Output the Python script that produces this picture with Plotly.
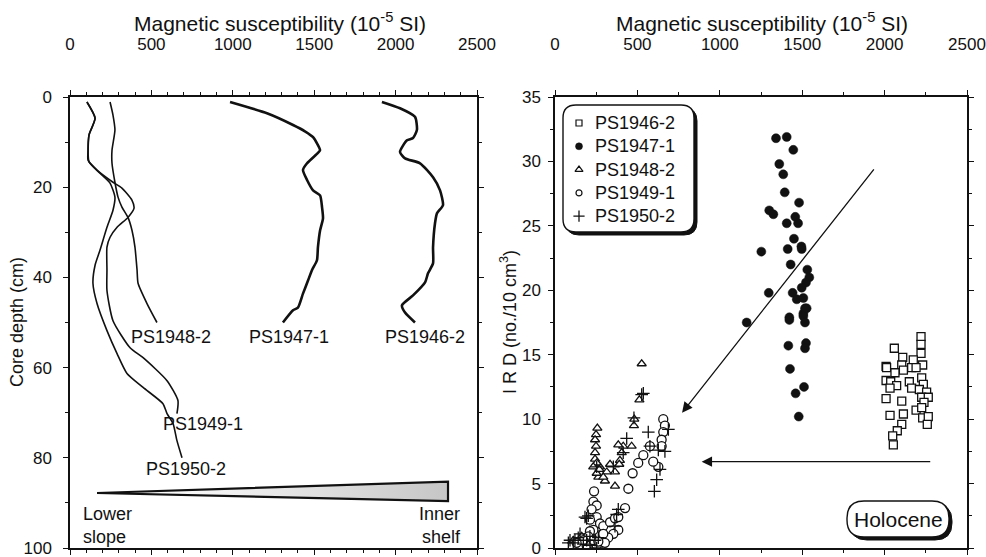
import plotly.graph_objects as go

W, H = 986, 557
FONT = "Liberation Sans, Arial, Helvetica, sans-serif"
INK = "#111111"

# ---- Left panel: down-core magnetic susceptibility (10^-5 SI) ----
ps1946_ms = [1916, 2027, 2119, 2131, 2107, 2070, 2027, 2058, 2150, 2230, 2273, 2291,
             2254, 2242, 2230, 2230, 2199, 2181, 2107, 2039, 2058, 2119]
ps1946_depth = [1.1, 2.5, 4.4, 7.3, 9.1, 9.6, 12.2, 13.6, 14.7, 17.8, 20.7, 24.0,
                25.8, 28.0, 33.3, 36.9, 39.1, 41.1, 44.0, 46.2, 47.8, 50.0]

ps1947_ms = [983, 1210, 1370, 1443, 1493, 1536, 1523, 1456, 1431, 1456, 1493, 1536,
             1548, 1554, 1536, 1523, 1517, 1486, 1462, 1431, 1400, 1370, 1308]
ps1947_depth = [1.1, 3.6, 6.2, 7.6, 8.9, 11.8, 12.4, 14.7, 16.2, 18.4, 20.7, 21.8,
                24.4, 26.9, 29.6, 33.3, 36.2, 38.4, 40.7, 43.6, 46.7, 47.3, 50.0]

ps1948_ms = [246, 264, 276, 258, 258, 276, 295, 319, 356, 381, 399, 412, 418, 473, 534]
ps1948_depth = [1.1, 4.0, 7.3, 11.8, 14.7, 18.9, 22.2, 24.4, 26.7, 29.6, 33.3, 38.4,
                41.3, 45.8, 50.0]

ps1949_ms = [104, 154, 117, 111, 111, 166, 264, 319, 381, 393, 356, 289, 246, 227,
             227, 227, 264, 369, 449, 596, 663, 657]
ps1949_depth = [1.1, 4.7, 8.4, 11.8, 14.0, 16.2, 18.9, 20.2, 22.9, 24.7, 26.7, 28.9,
                31.1, 33.3, 38.4, 42.9, 49.6, 55.6, 57.8, 62.9, 67.3, 70.2]

ps1950_ms = [104, 154, 117, 111, 117, 184, 246, 276, 264, 227, 184, 154, 141, 166,
             227, 289, 350, 449, 571, 596, 633, 657, 688]
ps1950_depth = [1.1, 4.7, 8.4, 11.8, 14.4, 16.9, 19.1, 22.2, 25.1, 28.9, 34.0, 37.3,
                41.3, 45.8, 51.8, 56.9, 61.3, 64.4, 68.0, 70.2, 72.4, 76.2, 80.0]

# labels at the foot of each profile: (text, ms, depth)
profile_labels = [("PS1948-2", 620, 53.3), ("PS1947-1", 1345, 53.3),
                  ("PS1946-2", 2181, 53.3), ("PS1949-1", 817, 72.4),
                  ("PS1950-2", 713, 82.4)]

# shelf-to-slope wedge
wedge_ms = [166, 2322, 2322, 166]
wedge_depth = [87.8, 85.3, 89.6, 87.8]

# ---- Right panel: IRD (no./10 cm^3) against magnetic susceptibility ----
sq_ms = [2221, 2221, 2059, 2221, 2110, 2174, 2231, 2009, 2104, 2164, 2012, 2191, 2114,
         2063, 2225, 2009, 2037, 2150, 2235, 2073, 2033, 2164, 2211, 2255, 2225, 2265,
         2009, 2104, 2239, 2191, 2225, 2033, 2114, 2231, 2265, 2259, 2104, 2077, 2049, 2053]
sq_ird = [16.4, 15.8, 15.5, 15.1, 14.8, 14.6, 14.2, 14.1, 14.2, 14.0, 14.0, 14.0, 13.8,
          13.6, 13.2, 13.0, 12.9, 12.9, 12.7, 12.6, 12.4, 12.4, 12.3, 12.1, 11.7, 11.7,
          11.6, 11.4, 11.3, 10.7, 10.9, 10.3, 10.4, 10.1, 10.2, 9.6, 9.6, 9.1, 8.7, 8.0]

dot_ms = [1341, 1406, 1446, 1361, 1385, 1394, 1481, 1300, 1325, 1458, 1406, 1475, 1450,
          1412, 1495, 1497, 1252, 1430, 1531, 1543, 1523, 1297, 1497, 1442, 1467, 1507,
          1527, 1507, 1422, 1517, 1507, 1517, 1422, 1416, 1523, 1517, 1426, 1511, 1460,
          1479, 1163]
dot_ird = [31.8, 31.9, 30.9, 29.8, 29.0, 27.6, 26.8, 26.2, 25.9, 25.7, 25.2, 25.2, 24.0,
           23.2, 23.4, 23.2, 23.0, 22.0, 21.6, 21.0, 20.6, 19.8, 20.2, 19.8, 19.3, 19.4,
           18.6, 18.2, 17.9, 18.6, 18.0, 17.5, 17.7, 15.7, 15.9, 15.5, 13.9, 12.5, 12.0,
           10.2, 17.5]

tri_ms = [526, 512, 481, 479, 465, 414, 405, 384, 394, 390, 334, 364, 364, 314, 303,
          263, 253, 273, 257, 249, 243, 249, 243, 243, 253, 232, 269, 293, 111, 162, 212]
tri_ird = [14.3, 11.5, 10.0, 9.5, 7.9, 7.9, 7.4, 8.0, 6.8, 6.5, 6.5, 5.9, 4.8, 5.9, 5.2,
           5.5, 5.8, 6.3, 9.3, 8.8, 8.4, 7.9, 7.4, 6.9, 6.6, 6.3, 6.1, 5.5, 0.6, 0.9, 1.4]

ring_ms = [657, 667, 657, 647, 647, 627, 576, 536, 596, 505, 471, 445, 425, 237, 233,
           253, 222, 253, 212, 273, 293, 334, 364, 384, 384, 354, 323, 303, 273, 233,
           212, 202, 192, 253, 172, 131, 233, 293, 263]
ring_ird = [10.0, 9.5, 9.0, 8.4, 7.9, 6.3, 7.9, 7.2, 6.7, 6.6, 5.8, 4.6, 3.1, 4.4, 3.6,
            3.3, 3.0, 2.4, 2.2, 1.9, 1.7, 2.0, 2.3, 2.4, 1.4, 1.1, 0.8, 0.4, 1.0, 1.4,
            1.3, 0.9, 0.2, 0.2, 0.6, 0.4, 0.6, 1.1, 0.5]

plus_ms = [526, 536, 479, 566, 435, 576, 627, 688, 667, 637, 617, 603, 414, 354, 253,
           192, 202, 384, 374, 364, 91, 111, 141, 152, 192, 212, 243, 253, 172,
           121, 81, 212, 263, 182]
plus_ird = [11.9, 12.0, 10.1, 9.0, 8.5, 7.9, 7.6, 9.2, 7.5, 6.1, 5.3, 4.4, 7.4, 6.3, 6.3,
            2.3, 2.5, 3.0, 2.6, 1.7, 0.6, 0.4, 0.8, 1.1, 0.6, 0.2, 0.6, 0.0, 0.3,
            0.6, 0.4, 0.9, 0.8, 2.4]

core_names = ["PS1946-2", "PS1947-1", "PS1948-2", "PS1949-1", "PS1950-2"]

# trend arrows (tail -> head) in data units
arrow_diag = dict(tail=(1942, 29.5), head=(771, 10.5))
arrow_horiz = dict(tail=(2286, 6.7), head=(890, 6.7))

# ---- layout geometry (pixels) ----
LEFT_X = (70, 477)
RIGHT_X = (555, 967)
PLOT_Y = (97, 548)
LEGEND_BOX = (563, 105, 694, 232)
LEGEND_ROW0, LEGEND_ROWSTEP = 123, 23.3
HOLOCENE_BOX = (847, 501, 949, 537)


def px(x):
    return x / W


def py(y):
    return 1 - y / H


def rounded_rect(x0, y0, x1, y1, r):
    """Rounded rectangle path in paper units from pixel bounds."""
    pts = [
        f"M {px(x0 + r)} {py(y0)}",
        f"L {px(x1 - r)} {py(y0)}",
        f"Q {px(x1)} {py(y0)} {px(x1)} {py(y0 + r)}",
        f"L {px(x1)} {py(y1 - r)}",
        f"Q {px(x1)} {py(y1)} {px(x1 - r)} {py(y1)}",
        f"L {px(x0 + r)} {py(y1)}",
        f"Q {px(x0)} {py(y1)} {px(x0)} {py(y1 - r)}",
        f"L {px(x0)} {py(y0 + r)}",
        f"Q {px(x0)} {py(y0)} {px(x0 + r)} {py(y0)}",
        "Z",
    ]
    return " ".join(pts)


fig = go.Figure()

# left panel profiles
thick = dict(color=INK, width=2.6, shape="spline", smoothing=0.6)
thin = dict(color=INK, width=1.6, shape="spline", smoothing=0.6)
for ms, d, ln in [(ps1946_ms, ps1946_depth, thick), (ps1947_ms, ps1947_depth, thick),
                  (ps1948_ms, ps1948_depth, thin), (ps1949_ms, ps1949_depth, thin),
                  (ps1950_ms, ps1950_depth, thin)]:
    fig.add_trace(go.Scatter(x=ms, y=d, mode="lines", line=ln, xaxis="x", yaxis="y",
                             showlegend=False, hoverinfo="skip"))

fig.add_trace(go.Scatter(
    x=wedge_ms, y=wedge_depth, mode="lines", fill="toself",
    fillgradient=dict(type="horizontal",
                      colorscale=[[0, "white"], [0.3, "#f6f6f6"], [1, "#c6c6c6"]]),
    line=dict(color=INK, width=2.2), xaxis="x", yaxis="y",
    showlegend=False, hoverinfo="skip"))

# right panel scatter
mk_line = dict(color=INK, width=1.3)
styles = [
    dict(symbol="square", size=8, color="white", line=mk_line),
    dict(symbol="circle", size=9, color=INK, line=dict(color=INK, width=0.5)),
    dict(symbol="triangle-up", size=8, color="white", line=mk_line),
    dict(symbol="circle", size=9, color="white", line=mk_line),
    dict(symbol="cross-thin", size=9, color=INK, line=mk_line),
]
key_styles = [
    dict(symbol="square", size=6, color="white", line=dict(color=INK, width=1.2)),
    dict(symbol="circle", size=7, color=INK, line=dict(color=INK, width=0.5)),
    dict(symbol="triangle-up", size=7, color="white", line=dict(color=INK, width=1.2)),
    dict(symbol="circle", size=6, color="white", line=dict(color=INK, width=1.2)),
    dict(symbol="cross-thin", size=8, color=INK, line=dict(color=INK, width=1.3)),
]
data_sets = [(sq_ms, sq_ird), (dot_ms, dot_ird), (tri_ms, tri_ird),
             (ring_ms, ring_ird), (plus_ms, plus_ird)]
for name, (xs, ys), mk in zip(core_names, data_sets, styles):
    fig.add_trace(go.Scatter(x=xs, y=ys, mode="markers", name=name, marker=mk,
                             xaxis="x2", yaxis="y2", showlegend=False))

# legend key: one row per core on a hidden helper axis
for i, (name, mk) in enumerate(zip(core_names, key_styles)):
    fig.add_trace(go.Scatter(x=[0], y=[i], mode="markers", marker=mk, xaxis="x3",
                             yaxis="y3", showlegend=False, hoverinfo="skip"))

tickfont = dict(family=FONT, size=17, color=INK)
axis_common = dict(showline=True, linecolor=INK, linewidth=1.5, mirror="ticks",
                   ticks="outside", ticklen=5, tickcolor=INK, tickwidth=1.2,
                   showgrid=False, zeroline=False, tickfont=tickfont, automargin=False,
                   ticklabeloverflow="allow")

n_rows = len(core_names)
leg_top = LEGEND_ROW0 - LEGEND_ROWSTEP / 2
leg_bot = leg_top + LEGEND_ROWSTEP * n_rows

fig.update_layout(
    template="none",
    width=W, height=H,
    margin=dict(l=0, r=0, t=0, b=0, pad=0, autoexpand=False),
    paper_bgcolor="white", plot_bgcolor="rgba(0,0,0,0)",
    font=dict(family=FONT, color=INK),
    showlegend=False,
    xaxis=dict(domain=[px(LEFT_X[0]), px(LEFT_X[1])], range=[0, 2500], side="top",
               dtick=500, ticklabelstandoff=33,
               minor=dict(dtick=100, ticklen=3, ticks="outside", tickcolor=INK),
               anchor="y", **axis_common),
    yaxis=dict(domain=[py(PLOT_Y[1]), py(PLOT_Y[0])], range=[100, 0], dtick=20,
               ticklabelstandoff=8,
               minor=dict(dtick=10, ticklen=3, ticks="outside", tickcolor=INK),
               anchor="x", **axis_common),
    xaxis2=dict(domain=[px(RIGHT_X[0]), px(RIGHT_X[1])], range=[0, 2500], side="top",
                dtick=500, ticklabelstandoff=33,
                minor=dict(dtick=250, ticklen=3, ticks="outside", tickcolor=INK),
                anchor="y2", **axis_common),
    yaxis2=dict(domain=[py(PLOT_Y[1]), py(PLOT_Y[0])], range=[0, 35], dtick=5,
                ticklabelstandoff=4,
                minor=dict(dtick=2.5, ticklen=3, ticks="outside", tickcolor=INK),
                anchor="x2", **axis_common),
    xaxis3=dict(domain=[px(573), px(585)], range=[-1, 1], visible=False,
                anchor="y3", automargin=False, fixedrange=True),
    yaxis3=dict(domain=[py(leg_bot), py(leg_top)], range=[n_rows - 0.5, -0.5],
                visible=False, anchor="x3", automargin=False, fixedrange=True),
)

annotations = []


def note(text, x, y, xref="paper", yref="paper", size=18, **kw):
    a = dict(text=text, x=x, y=y, xref=xref, yref=yref, showarrow=False,
             font=dict(size=size), xanchor="center", yanchor="middle")
    a.update(kw)
    annotations.append(a)


# axis titles
title_txt = "Magnetic susceptibility (10<sup>-5</sup> SI)"
for cx in (280, 762):
    note(title_txt, px(cx), py(22), size=21)
note("Core depth (cm)", px(17), py(322), textangle=-90)
note("I R D (no./10 cm<sup>3</sup>)", px(508), py(322), textangle=-90)

# profile labels
for txt, xv, yv in profile_labels:
    note(txt, xv, yv, xref="x", yref="y")
note("Lower<br>slope", 233, 94.9, xref="x", yref="y", align="left")
note("Inner<br>shelf", 2273, 94.9, xref="x", yref="y", align="right")

# legend key labels
for i, name in enumerate(core_names):
    note(name, 1, i, xref="x3", yref="y3", xanchor="left", xshift=8)

# trend arrows
for arr in (arrow_diag, arrow_horiz):
    annotations.append(dict(x=arr["head"][0], y=arr["head"][1], ax=arr["tail"][0],
                            ay=arr["tail"][1], xref="x2", yref="y2", axref="x2",
                            ayref="y2", showarrow=True, text="", arrowhead=2,
                            arrowsize=1.6, arrowwidth=1.3, arrowcolor=INK))

hx0, hy0, hx1, hy1 = HOLOCENE_BOX
note("Holocene", px((hx0 + hx1) / 2), py((hy0 + hy1) / 2), size=21)
fig.update_layout(annotations=annotations)

# rounded boxes with drop shadows: legend and period label
shapes = []
for (x0, y0, x1, y1), r in [(LEGEND_BOX, 13), (HOLOCENE_BOX, 17)]:
    shapes.append(dict(type="path", path=rounded_rect(x0 + 3, y0 + 3, x1 + 3, y1 + 3, r),
                       xref="paper", yref="paper", fillcolor=INK,
                       line=dict(color=INK, width=1), layer="below"))
    shapes.append(dict(type="path", path=rounded_rect(x0, y0, x1, y1, r),
                       xref="paper", yref="paper", fillcolor="white",
                       line=dict(color=INK, width=1.4), layer="below"))
fig.update_layout(shapes=shapes)

fig.write_html("out.html")
